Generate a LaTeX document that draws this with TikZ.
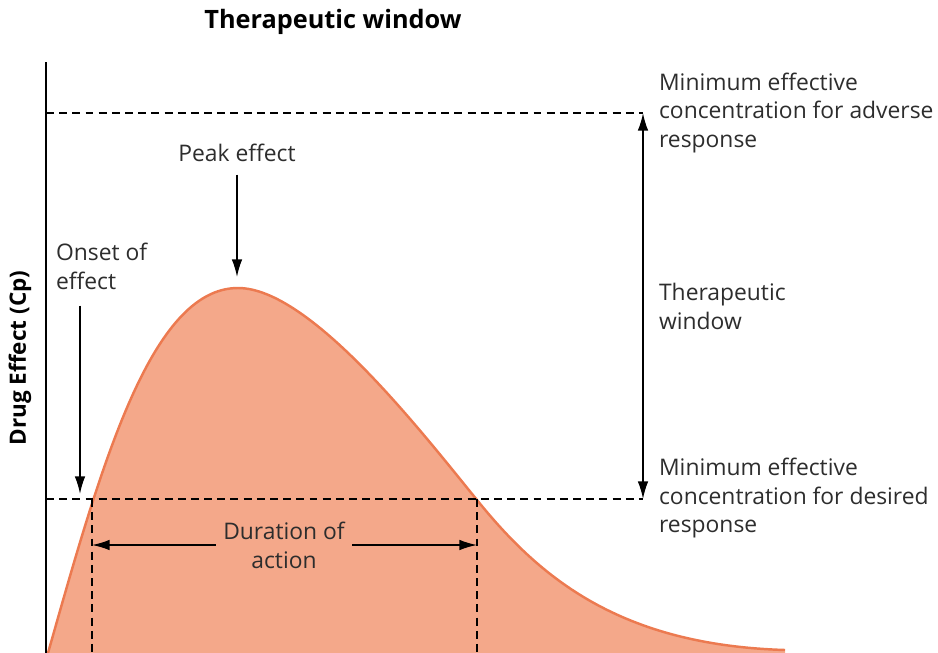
\documentclass[tikz,border=0pt]{standalone}
\usepackage{fontspec}
\setmainfont{Open Sans}
\definecolor{effect-fill}{RGB}{244,168,138}
\definecolor{effect-line}{RGB}{236,122,80}
\definecolor{label-grey}{RGB}{45,45,45}
\usetikzlibrary{arrows.meta,positioning}

\begin{document}
\begin{tikzpicture}[x=0.02cm,y=-0.02cm,
        every node/.style={font=\fontsize{13}{16.5}\selectfont,text=label-grey,inner sep=1pt},
        boldlabel/.style={font=\bfseries\fontsize{12.8}{14}\selectfont,text=black},
        sidelabel/.style={anchor=west,align=left},
        arr/.style={-{Latex[length=10pt,width=6pt]},line width=0.9pt},
        dashline/.style={dash pattern=on 4.5pt off 3pt,line width=1pt},
        dropline/.style={dash pattern=on 4.5pt off 3pt,line width=1.3pt}
        ]
    \useasboundingbox (0,0) rectangle (938,653);
    %
    \coordinate (origin) at (46,653);
    \coordinate (axistop) at (46,62);
    \coordinate (adv) at (643,113);
    \coordinate (des) at (643,499);
    \coordinate (onset) at (92,499);
    \coordinate (offset) at (477,499);
    \coordinate (peaktip) at (237,277);
    \coordinate (onsettip) at (80,494);
    %
    \fill[effect-fill] (48,653) .. controls (100,470) and (150,288) .. (238,288)
        .. controls (310,288) and (420,430) .. (477,500)
        .. controls (540,578) and (620,645) .. (785,650) -- (785,653) -- cycle;
    \draw[effect-line,line width=1.4pt] (48,653) .. controls (100,470) and (150,288) .. (238,288)
        .. controls (310,288) and (420,430) .. (477,500)
        .. controls (540,578) and (620,645) .. (785,650);
    %
    \draw[line width=1.1pt] (origin) -- (axistop);
    \draw[dashline] (adv -| origin) -- (adv);
    \draw[dashline] (des -| origin) -- (des);
    \draw[dropline] (onset) -- (onset |- origin);
    \draw[dropline] (offset) -- (offset |- origin);
    \draw[arr,{Latex[length=10pt,width=6pt]}-{Latex[length=10pt,width=6pt]}] (adv) -- (des);
    %
    \node[boldlabel,font=\bfseries\fontsize{14.4}{16}\selectfont] (title) at (333,22) {Therapeutic window};
    \node[boldlabel,rotate=90] (ylabel) at (20,358) {Drug Effect (Cp)};
    \node[sidelabel] (adverse) at (657,113) {Minimum effective\\concentration for adverse\\response};
    \node[sidelabel] (window) at (657,306) {Therapeutic\\window};
    \node[sidelabel] (desired) at (657,498) {Minimum effective\\concentration for desired\\response};
    \node (peaklbl) at (237,153) {Peak effect};
    \node[sidelabel] (onsetlbl) at (54,266) {Onset of\\effect};
    \node[align=center,inner sep=4pt] (duration) at (284,545) {Duration of\\action};
    %
    \draw[arr,shorten <=6pt] (peaklbl) -- (peaktip);
    \draw[arr,shorten <=8pt] (onsettip |- onsetlbl.south) -- (onsettip);
    \draw[arr] (duration.west) -- (duration.west -| onset);
    \draw[arr] (duration.east) -- (duration.east -| offset);
\end{tikzpicture}
\end{document}
